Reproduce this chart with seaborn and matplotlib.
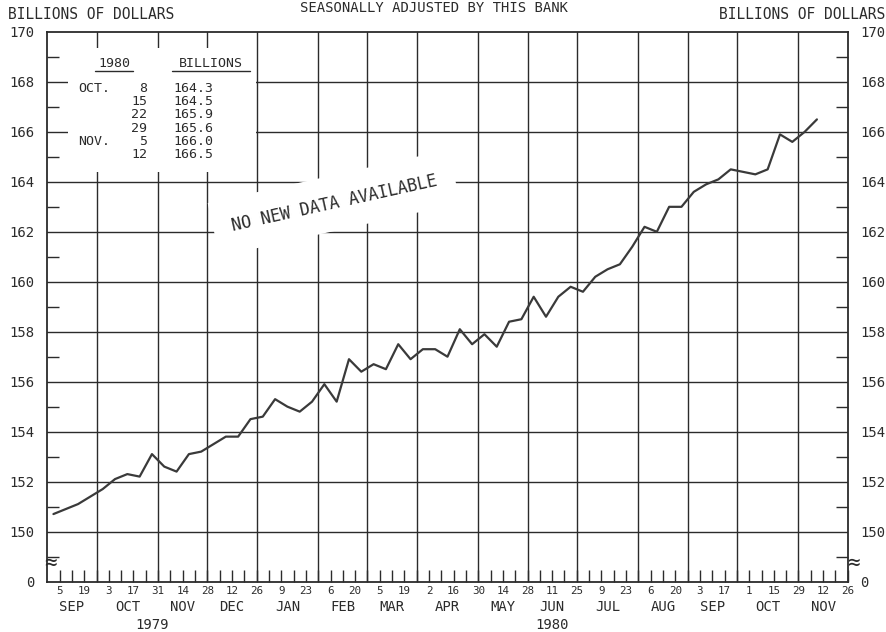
import pandas as pd
import matplotlib
matplotlib.use('Agg')
import matplotlib.pyplot as plt
import matplotlib.dates as mdates
import matplotlib.transforms as mtransforms
from matplotlib.patches import Rectangle
import seaborn as sns

# weekly series (Wednesdays), billions of dollars
week_dates = pd.date_range('1979-09-05', '1980-11-12', freq='W-WED')
values = [150.7, 150.9, 151.1, 151.4, 151.7, 152.1, 152.3, 152.2, 153.1, 152.6,
          152.4, 153.1, 153.2, 153.5, 153.8, 153.8, 154.5, 154.6, 155.3, 155.0,
          154.8, 155.2, 155.9, 155.2, 156.9, 156.4, 156.7, 156.5, 157.5, 156.9,
          157.3, 157.3, 157.0, 158.1, 157.5, 157.9, 157.4, 158.4, 158.5, 159.4,
          158.6, 159.4, 159.8, 159.6, 160.2, 160.5, 160.7, 161.4, 162.2, 162.0,
          163.0, 163.0, 163.6, 163.9, 164.1, 164.5, 164.4, 164.3, 164.5, 165.9,
          165.6, 166.0, 166.5]

axis_weeks = pd.date_range('1979-09-05', '1980-11-26', freq='W-WED')
y_ticks = list(range(148, 171, 2))
y_labels = ['0'] + [str(v) for v in range(150, 171, 2)]
y_minor = list(range(149, 170, 2))

table_months = ['OCT.', '', '', '', 'NOV.', '']
table_days = ['8', '15', '22', '29', '5', '12']
table_values = [164.3, 164.5, 165.9, 165.6, 166.0, 166.5]

sns.set_style('white')
plt.rcParams['font.family'] = ['DejaVu Sans Mono', 'DejaVu Sans']
ink = '#2b2b2b'

fig = plt.figure(figsize=(8.87, 6.32), dpi=100)
ax = fig.add_axes([0.0533, 0.0799, 0.9024, 0.8695])

x_left = pd.Timestamp('1979-08-29')
x_right = pd.Timestamp('1980-11-26')

# data plotted at mid-week
df = pd.DataFrame({'date': week_dates - pd.Timedelta(days=3.5), 'value': values})
sns.lineplot(data=df, x='date', y='value', ax=ax, color='#3a3a3a', linewidth=1.6, zorder=5)

ax.set_xlim(x_left, x_right)
ax.set_ylim(148, 170)

# grid: horizontal every 2, vertical at last week of each month
for v in y_ticks[1:-1]:
    ax.axhline(v, color=ink, lw=1.0, zorder=1)
s = pd.Series(axis_weeks)
last_wed = s.groupby(s.dt.to_period('M')).max()
month_lines = list(last_wed.iloc[:-1])
for d in month_lines:
    ax.axvline(d, color=ink, lw=1.0, zorder=1)

# white panel behind the table
x0 = mdates.date2num(pd.Timestamp('1979-09-09 12:00'))
x1 = mdates.date2num(pd.Timestamp('1979-12-25 18:00'))
ax.add_patch(Rectangle((x0, 164.4), x1 - x0, 169.36 - 164.4,
                       facecolor='white', edgecolor='none', zorder=3))

# ticks
ax.set_yticks(y_ticks)
ax.set_yticklabels(y_labels)
ax.set_yticks(y_minor, minor=True)
ax.tick_params(axis='y', which='major', length=0, left=True, right=True,
               labelleft=True, labelright=True, labelsize=10, colors=ink, pad=9)
ax.tick_params(axis='y', which='minor', direction='in', length=8.6, width=1.0,
               left=True, right=True, color=ink)

ax.set_xticks(axis_weeks)
ax.set_xticklabels([str(d.day) if i % 2 == 0 else '' for i, d in enumerate(axis_weeks)])
ax.tick_params(axis='x', which='major', direction='in', length=8.5, width=1.0,
               bottom=True, top=False, labelsize=7.8, colors=ink, pad=3)
ax.tick_params(axis='x', which='minor', bottom=False, top=False)
ax.set_xlabel('')
ax.set_ylabel('')
for sp in ax.spines.values():
    sp.set_visible(True)
    sp.set_color(ink)
    sp.set_linewidth(1.3)

# month and year labels
trans = mtransforms.blended_transform_factory(ax.transData, ax.transAxes)
bounds = [x_left] + month_lines + [x_right]
names = [p.strftime('%b').upper() for p in last_wed.index]
for i, name in enumerate(names):
    c = bounds[i] + (bounds[i + 1] - bounds[i]) / 2
    ax.text(c, -0.0464, name, transform=trans, ha='center', va='center',
            fontsize=10, color=ink)
dec_line = pd.Timestamp('1979-12-26')
ax.text(x_left + (dec_line - x_left) / 2, -0.0792, '1979', transform=trans,
        ha='center', va='center', fontsize=10, color=ink)
ax.text(dec_line + (x_right - dec_line) / 2, -0.0792, '1980', transform=trans,
        ha='center', va='center', fontsize=10, color=ink)

# axis break marks
ax.text(0.0034, 0.0337, '\u2248', transform=ax.transAxes, ha='center', va='center',
        fontsize=15, color=ink, clip_on=False, zorder=6)
ax.text(1.0070, 0.0337, '\u2248', transform=ax.transAxes, ha='center', va='center',
        fontsize=15, color=ink, clip_on=False, zorder=6)

# table of recent weeks
tsize = 9.5
ax.text(0.0833, 0.9418, '1980', transform=ax.transAxes, ha='center', va='center',
        fontsize=tsize, color=ink, zorder=4)
ax.text(0.2045, 0.9418, 'BILLIONS', transform=ax.transAxes, ha='center', va='center',
        fontsize=tsize, color=ink, zorder=4)
ax.plot([0.0597, 0.1071], [0.9296, 0.9296], transform=ax.transAxes, color=ink, lw=1.0, zorder=4)
ax.plot([0.1558, 0.2533], [0.9296, 0.9296], transform=ax.transAxes, color=ink, lw=1.0, zorder=4)
for i, (m, d, v) in enumerate(zip(table_months, table_days, table_values)):
    yy = 0.8972 - i * 0.02402
    ax.text(0.0384, yy, m, transform=ax.transAxes, ha='left', va='center',
            fontsize=tsize, color=ink, zorder=4)
    ax.text(0.1246, yy, d, transform=ax.transAxes, ha='right', va='center',
            fontsize=tsize, color=ink, zorder=4)
    ax.text(0.157, yy, f'{v:.1f}', transform=ax.transAxes, ha='left', va='center',
            fontsize=tsize, color=ink, zorder=4)

# rotated note
ax.text(pd.Timestamp('1980-02-08'), 163.15, 'NO NEW DATA AVAILABLE', rotation=12.5,
        rotation_mode='anchor', ha='center', va='center', fontsize=12, color=ink,
        zorder=4, bbox=dict(boxstyle='square,pad=1.1', facecolor='white', edgecolor='none'))

# headers
fig.text(0.009, 0.9763, 'BILLIONS OF DOLLARS', ha='left', va='center', fontsize=10.5, color=ink)
fig.text(0.9977, 0.9763, 'BILLIONS OF DOLLARS', ha='right', va='center', fontsize=10.5, color=ink)
fig.text(0.489, 0.9873, 'SEASONALLY ADJUSTED BY THIS BANK', ha='center', va='center',
         fontsize=10, color=ink)

fig.savefig('out.png', dpi=100, facecolor='white')
